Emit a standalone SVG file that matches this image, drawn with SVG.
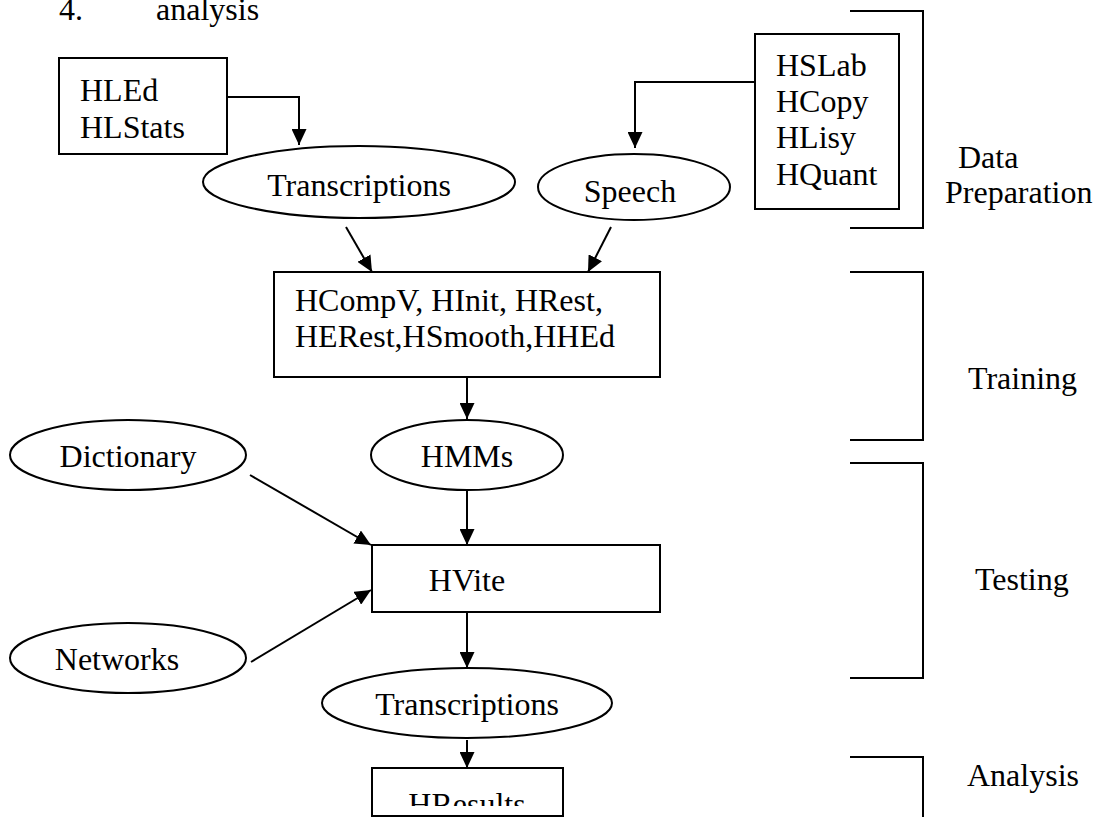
<svg xmlns="http://www.w3.org/2000/svg" width="1094" height="817" viewBox="0 0 1094 817">
  <style>
    text { font-family: "Liberation Serif", "Times New Roman", serif; font-size: 32px; fill: #000; }
    .mid { text-anchor: middle; }
    .shape { fill: #fff; stroke: #000; stroke-width: 2; }
    .link { fill: none; stroke: #000; stroke-width: 2; }
    .bracket { fill: none; stroke: #000; stroke-width: 2; }
  </style>
  <defs>
    <marker id="arrow" markerUnits="userSpaceOnUse" markerWidth="16" markerHeight="15" refX="16" refY="7.5" orient="auto">
      <path d="M0,0 L16,7.5 L0,15 z" fill="#000"/>
    </marker>
    <clipPath id="clip-hresults">
      <rect x="372" y="768" width="192" height="38"/>
    </clipPath>
  </defs>
  <rect width="1094" height="817" fill="#fff"/>

  <!-- heading line -->
  <g id="heading">
    <text x="59" y="20">4.</text>
    <text x="156" y="20">analysis</text>
  </g>

  <!-- connectors -->
  <g id="connectors">
    <polyline class="link" points="227,97 299,97 299,145" marker-end="url(#arrow)"/>
    <polyline class="link" points="755,82 635,82 635,148" marker-end="url(#arrow)"/>
    <line class="link" x1="346" y1="227" x2="372" y2="272" marker-end="url(#arrow)"/>
    <line class="link" x1="611" y1="227" x2="588" y2="272" marker-end="url(#arrow)"/>
    <line class="link" x1="467" y1="355" x2="467" y2="419" marker-end="url(#arrow)"/>
    <line class="link" x1="250" y1="475" x2="371" y2="545" marker-end="url(#arrow)"/>
    <line class="link" x1="467" y1="491" x2="467" y2="545" marker-end="url(#arrow)"/>
    <line class="link" x1="251" y1="662" x2="371" y2="590" marker-end="url(#arrow)"/>
    <line class="link" x1="467" y1="612" x2="467" y2="668" marker-end="url(#arrow)"/>
    <line class="link" x1="467" y1="740" x2="467" y2="768" marker-end="url(#arrow)"/>
  </g>

  <!-- data preparation tools -->
  <g id="hled">
    <rect class="shape" x="59" y="58" width="168" height="96"/>
    <text x="80" y="101">HLEd</text>
    <text x="80" y="138">HLStats</text>
  </g>
  <g id="hslab">
    <rect class="shape" x="755" y="34" width="144" height="175"/>
    <text x="776" y="76">HSLab</text>
    <text x="776" y="112">HCopy</text>
    <text x="776" y="148">HLisy</text>
    <text x="776" y="185">HQuant</text>
  </g>
  <g id="transcriptions-in">
    <ellipse class="shape" cx="359" cy="182" rx="156" ry="36"/>
    <text class="mid" x="359" y="196">Transcriptions</text>
  </g>
  <g id="speech">
    <ellipse class="shape" cx="634" cy="187" rx="96" ry="33"/>
    <text class="mid" x="630" y="202">Speech</text>
  </g>

  <!-- training -->
  <g id="training-tools">
    <rect class="shape" x="274" y="272" width="386" height="105"/>
    <text x="295" y="311">HCompV, HInit, HRest,</text>
    <text x="295" y="347">HERest,HSmooth,HHEd</text>
  </g>
  <g id="hmms">
    <ellipse class="shape" cx="467" cy="455" rx="96" ry="35"/>
    <text class="mid" x="467" y="467">HMMs</text>
  </g>

  <!-- testing -->
  <g id="dictionary">
    <ellipse class="shape" cx="128" cy="455" rx="118" ry="35"/>
    <text class="mid" x="128" y="467">Dictionary</text>
  </g>
  <g id="hvite">
    <rect class="shape" x="372" y="545" width="288" height="67"/>
    <text class="mid" x="467" y="591">HVite</text>
  </g>
  <g id="networks">
    <ellipse class="shape" cx="128" cy="658" rx="118" ry="35"/>
    <text class="mid" x="117" y="670">Networks</text>
  </g>
  <g id="transcriptions-out">
    <ellipse class="shape" cx="467" cy="703" rx="145" ry="35"/>
    <text class="mid" x="467" y="715">Transcriptions</text>
  </g>

  <!-- analysis -->
  <g id="hresults">
    <rect class="shape" x="372" y="768" width="191" height="48"/>
    <text class="mid" x="467" y="815" clip-path="url(#clip-hresults)">HResults</text>
  </g>

  <!-- stage brackets -->
  <g id="stage-data-preparation">
    <polyline class="bracket" points="850,11 923,11 923,228 850,228"/>
    <text x="958" y="168">Data</text>
    <text x="945" y="203">Preparation</text>
  </g>
  <g id="stage-training">
    <polyline class="bracket" points="850,272 923,272 923,440 850,440"/>
    <text x="968" y="389">Training</text>
  </g>
  <g id="stage-testing">
    <polyline class="bracket" points="850,463 923,463 923,678 850,678"/>
    <text x="975" y="590">Testing</text>
  </g>
  <g id="stage-analysis">
    <polyline class="bracket" points="850,757 923,757 923,818"/>
    <text x="967" y="786">Analysis</text>
  </g>
</svg>
